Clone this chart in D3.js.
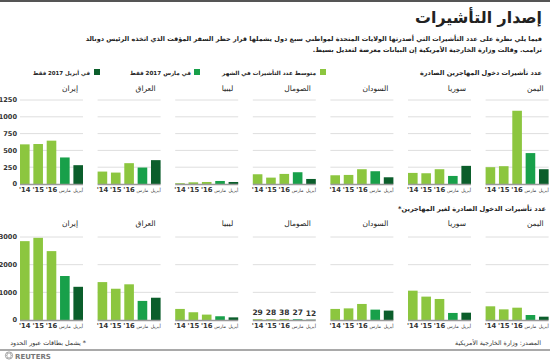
<!DOCTYPE html>
<html><head><meta charset="utf-8">
<script src="https://cdn.jsdelivr.net/npm/d3@7/dist/d3.min.js"></script>
<style>
html,body{margin:0;padding:0;background:#fff;}
svg{display:block;}
text{font-family:"DejaVu Sans","Noto Sans",sans-serif;}
</style></head>
<body>
<svg id="c" width="550" height="360"></svg>
<script>
// ---- data ----
const countries = ["إيران","العراق","ليبيا","الصومال","السودان","سوريا","اليمن"];
const periods = ["'14","'15","'16","مارس","أبريل"];
const seriesNames = ["متوسط عدد التأشيرات في الشهر","في مارس 2017 فقط","في أبريل 2017 فقط"];
// immigrant visas (top row), order: '14, '15, '16 (monthly avg), March 2017, April 2017
const immIran    = [590, 595, 645, 395, 280];
const immIraq    = [185, 170, 310, 245, 355];
const immLibya   = [12, 25, 30, 45, 30];
const immSomalia = [145, 95, 150, 175, 75];
const immSudan   = [130, 135, 220, 190, 100];
const immSyria   = [165, 160, 220, 120, 270];
const immYemen   = [250, 265, 1090, 460, 220];
// non-immigrant visas (bottom row)
const nonIran    = [2850, 2970, 2490, 1590, 1200];
const nonIraq    = [1370, 1130, 1290, 690, 805];
const nonLibya   = [400, 280, 195, 135, 95];
const nonSomalia = [29, 28, 38, 27, 12];
const nonSudan   = [400, 420, 580, 375, 340];
const nonSyria   = [1060, 845, 760, 255, 265];
const nonYemen   = [495, 385, 445, 180, 120];
const topTicks = [0, 250, 500, 750, 1000, 1250];
const bottomTicks = [0, 1000, 2000, 3000];

const immRows = [immIran, immIraq, immLibya, immSomalia, immSudan, immSyria, immYemen];
const nonRows = [nonIran, nonIraq, nonLibya, nonSomalia, nonSudan, nonSyria, nonYemen];

const colors = ["#8cc63f","#8cc63f","#8cc63f","#18a04a","#0b5e2b"];
const legendColors = ["#8cc63f","#18a04a","#0b5e2b"];

const svg = d3.select("#c");
const NUM = "Liberation Sans, Arial, sans-serif";

// RTL text helper: with direction rtl, text-anchor "start" puts the right edge at x
function rtl(x, y, size, txt, weight, fill){
  return svg.append("text").attr("x",x).attr("y",y).attr("direction","rtl").attr("text-anchor","start")
    .attr("font-size",size).attr("font-weight",weight||"normal").attr("fill",fill||"#222").text(txt);
}
// shrink/grow font so the text takes the given width
function fit(sel, w, maxSize){
  const l = sel.node().getComputedTextLength();
  let fs = +sel.attr("font-size") * w / l;
  if (maxSize) fs = Math.min(fs, maxSize);
  sel.attr("font-size", fs.toFixed(2));
  return sel;
}

// top rule
svg.append("rect").attr("x",0).attr("y",0).attr("width",550).attr("height",2).attr("fill","#555");

// title
fit(rtl(542, 23, 17, "إصدار التأشيرات", "bold"), 127, 18);
const sub1 = fit(rtl(542, 41, 8.3, "فيما يلي نظرة على عدد التأشيرات التي أصدرتها الولايات المتحدة لمواطني سبع دول يشملها قرار حظر السفر المؤقت الذي اتخذه الرئيس دونالد", "bold"), 457);
rtl(542, 51.5, +sub1.attr("font-size"), "ترامب. وقالت وزارة الخارجية الأمريكية إن البيانات معرضة لتعديل بسيط.", "bold");

// section titles
fit(rtl(542, 75, 8.5, "عدد تأشيرات دخول المهاجرين الصادرة", "bold"), 122);
fit(rtl(546, 211, 8.5, "عدد تأشيرات الدخول الصادرة لغير المهاجرين*", "bold"), 148);

// legend
const legendSq = [320, 194, 94];
const legendTextRight = [316, 191, 90];
const legendWidths = [94, 61, 57];
seriesNames.forEach((n,i)=>{
  svg.append("rect").attr("x",legendSq[i]).attr("y",69).attr("width",6).attr("height",6).attr("fill",legendColors[i]);
  fit(rtl(legendTextRight[i], 75, 7.4, n, "bold"), legendWidths[i]);
});

// panels
const panelW = 63;
const panelX = d3.scaleBand().domain(countries).range([20, 20 + 77.6*7]).paddingInner(0).paddingOuter(0);

function drawRow(rows, y, ticks, titleY, labelY, showValueLabels){
  ticks.forEach(t=>{
    svg.append("text").attr("x",17).attr("y",y(t)+2.4).attr("text-anchor","end").attr("font-family",NUM)
      .attr("font-size",6.6).attr("font-weight","bold").attr("fill","#333").text(t);
  });
  countries.forEach((c,ci)=>{
    const x0 = panelX(c);
    const x = d3.scaleBand().domain(periods).range([x0, x0+panelW]).paddingInner(0.28).paddingOuter(0);
    const g = svg.append("g");
    ticks.filter(t=>t>0).forEach(t=>{
      g.append("line").attr("x1",x0).attr("x2",x0+panelW).attr("y1",y(t)).attr("y2",y(t))
        .attr("stroke","#dedede").attr("stroke-width",1);
    });
    g.selectAll("rect.bar").data(rows[ci]).join("rect").attr("class","bar")
      .attr("x",(d,i)=>x(periods[i])).attr("width",x.bandwidth())
      .attr("y",d=>y(d)).attr("height",d=>y(0)-y(d))
      .attr("fill",(d,i)=>colors[i]);
    g.append("line").attr("x1",x0).attr("x2",x0+panelW).attr("y1",y(0)+0.5).attr("y2",y(0)+0.5)
      .attr("stroke","#9a9a9a").attr("stroke-width",1.5);
    g.append("text").attr("x",x0+panelW-5).attr("y",titleY).attr("direction","rtl").attr("text-anchor","start")
      .attr("font-size",7.5).attr("fill","#222").text(c);
    periods.forEach((p,i)=>{
      const isYear = i<3;
      g.append("text").attr("x",x(p)+x.bandwidth()/2).attr("y",labelY).attr("text-anchor","middle")
        .attr("font-family",isYear?NUM:null)
        .attr("font-size",isYear?6.8:4.6).attr("font-weight",isYear?"bold":"normal")
        .attr("fill","#333").text(p);
    });
    if(showValueLabels && ci===3){
      rows[ci].forEach((d,i)=>{
        g.append("text").attr("x",x(periods[i])+x.bandwidth()/2).attr("y",y(d)-4).attr("text-anchor","middle")
          .attr("font-family",NUM).attr("font-size",7.5).attr("font-weight","bold").attr("fill","#333").text(d);
      });
    }
  });
}

const yTop = d3.scaleLinear().domain([0,1250]).range([184,100]);
const yBot = d3.scaleLinear().domain([0,3000]).range([320,237]);
drawRow(immRows, yTop, topTicks, 91, 192, false);
drawRow(nonRows, yBot, bottomTicks, 226, 328, true);

// footer
fit(rtl(541, 345, 7, "المصدر: وزارة الخارجية الأمريكية", "normal", "#333"), 86);
fit(rtl(86, 345, 7, "* يشمل بطاقات عبور الحدود", "normal", "#333"), 76);
svg.append("rect").attr("x",0).attr("y",349.5).attr("width",550).attr("height",1).attr("fill","#555");

// reuters logo
const lg = svg.append("g").attr("transform","translate(9,355.5)");
lg.append("circle").attr("r",3.6).attr("fill","none").attr("stroke","#888").attr("stroke-width",0.8);
d3.range(8).forEach(k=>{
  const a = k*Math.PI/4;
  lg.append("circle").attr("cx",Math.cos(a)*2.2).attr("cy",Math.sin(a)*2.2).attr("r",0.6).attr("fill","#888");
});
svg.append("text").attr("x",15).attr("y",358.5).attr("font-size",7).attr("font-weight","bold")
  .attr("fill","#777").attr("font-family",NUM).text("REUTERS");
</script>
</body></html>
